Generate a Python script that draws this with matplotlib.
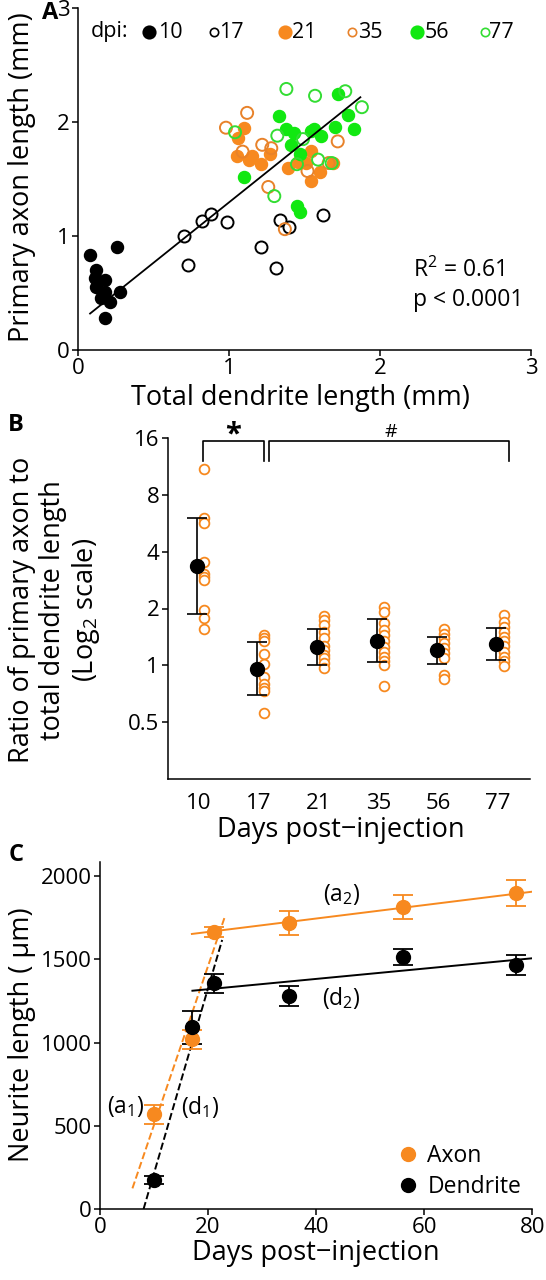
import numpy as np
import matplotlib
matplotlib.use('Agg')
import matplotlib.pyplot as plt
from matplotlib.lines import Line2D

plt.rcParams['font.family'] = ['Open Sans', 'DejaVu Sans']
plt.rcParams['mathtext.fontset'] = 'custom'
plt.rcParams['mathtext.rm'] = 'Open Sans'
plt.rcParams['mathtext.it'] = 'Open Sans'
plt.rcParams['axes.linewidth'] = 1.1
plt.rcParams['xtick.major.width'] = 1.1
plt.rcParams['ytick.major.width'] = 1.1
plt.rcParams['xtick.major.size'] = 4
plt.rcParams['ytick.major.size'] = 4

ORANGE = '#f7891f'
GREEN = '#11e811'
TICK_FS = 16
LABEL_FS = 19.5
TEXT_FS = 16.5

# ---------------- data: panel A (mm) ----------------
dpi10_x = [0.08, 0.26, 0.12, 0.11, 0.18, 0.18, 0.15, 0.21, 0.28, 0.18, 0.12]
dpi10_y = [0.83, 0.90, 0.70, 0.63, 0.61, 0.51, 0.46, 0.42, 0.51, 0.28, 0.55]
dpi17_x = [0.70, 0.82, 0.88, 0.99, 0.73, 1.21, 1.34, 1.40, 1.62, 1.31]
dpi17_y = [1.00, 1.13, 1.19, 1.12, 0.75, 0.90, 1.14, 1.08, 1.18, 0.72]
dpi21_x = [1.10, 1.06, 1.05, 1.15, 1.21, 1.27, 1.54, 1.51, 1.39, 1.60, 1.69, 1.54, 1.46, 1.13]
dpi21_y = [1.95, 1.86, 1.70, 1.70, 1.63, 1.72, 1.75, 1.64, 1.60, 1.56, 1.64, 1.48, 1.65, 1.67]
dpi35_x = [0.98, 1.12, 1.22, 1.28, 1.09, 1.72, 1.26, 1.37, 1.52, 1.66]
dpi35_y = [1.95, 2.08, 1.80, 1.77, 1.74, 1.83, 1.43, 1.06, 1.57, 1.64]
dpi56_x = [1.10, 1.33, 1.38, 1.43, 1.41, 1.47, 1.56, 1.61, 1.70, 1.79, 1.83, 1.72, 1.54, 1.45, 1.47]
dpi56_y = [1.52, 2.05, 1.94, 1.90, 1.80, 1.72, 1.94, 1.88, 1.96, 2.06, 1.94, 2.25, 1.92, 1.26, 1.21]
dpi77_x = [1.38, 1.57, 1.77, 1.88, 1.32, 1.59, 1.45, 1.04, 1.68, 1.30, 1.49]
dpi77_y = [2.29, 2.23, 2.27, 2.13, 1.88, 1.67, 1.63, 1.91, 1.64, 1.35, 1.85]
fit_slope = 1.06
fit_intercept = 0.235
fit_xrange = [0.08, 1.87]

# ---------------- data: panel B (ratio) ----------------
b_days = ['10', '17', '21', '35', '56', '77']
b_mean = [3.35, 0.96, 1.25, 1.35, 1.20, 1.30]
b_hi = [6.0, 1.33, 1.55, 1.77, 1.42, 1.58]
b_lo = [1.88, 0.70, 1.01, 1.04, 1.02, 1.07]
b_cells = [
    [10.97, 6.0, 5.7, 3.52, 3.05, 2.93, 2.83, 1.96, 1.78, 1.55],
    [1.45, 1.39, 1.34, 1.15, 1.02, 0.87, 0.80, 0.76, 0.73, 0.56],
    [1.82, 1.74, 1.64, 1.50, 1.39, 1.26, 1.20, 1.14, 1.09, 1.03, 0.97],
    [2.04, 1.92, 1.67, 1.54, 1.45, 1.34, 1.25, 1.18, 1.11, 1.05, 1.00, 0.78],
    [1.55, 1.47, 1.39, 1.31, 1.23, 1.16, 1.09, 0.89, 0.85],
    [1.85, 1.70, 1.60, 1.51, 1.42, 1.34, 1.26, 1.18, 1.11, 1.05, 0.99],
]

# ---------------- data: panel C (um) ----------------
c_days = [10, 17, 21, 35, 56, 77]
axon_mean = [569, 1019, 1666, 1716, 1816, 1896]
axon_err = [57, 55, 30, 72, 72, 78]
dend_mean = [174, 1091, 1356, 1279, 1512, 1465]
dend_err = [25, 98, 58, 60, 48, 60]
a1_line = ([6.0, 23.1], [124, 1756])
d1_line = ([8.06, 22.6], [0, 1616])
a2_line = ([17.0, 80.0], [1652, 1906])
d2_line = ([17.1, 80.0], [1311, 1506])

fig = plt.figure(figsize=(5.46, 12.8), dpi=100)


def fx(x):
    return x / 546.0


def fy(y):
    return 1 - y / 1280.0


def style(ax):
    ax.spines['top'].set_visible(False)
    ax.spines['right'].set_visible(False)
    ax.tick_params(direction='out', labelsize=TICK_FS, pad=2)


# ================= Panel A =================
axA = fig.add_axes([fx(78), fy(350), fx(531 - 78), 342 / 1280.0])
style(axA)
ms = 75
axA.scatter(dpi10_x, dpi10_y, s=ms, c='black', zorder=3)
axA.scatter(dpi17_x, dpi17_y, s=ms, facecolors='white', edgecolors='black', linewidths=1.4, zorder=3)
axA.scatter(dpi21_x, dpi21_y, s=ms, c=ORANGE, zorder=3)
axA.scatter(dpi35_x, dpi35_y, s=ms, facecolors='none', edgecolors='#e8822a', linewidths=1.4, zorder=3)
axA.scatter(dpi56_x, dpi56_y, s=ms, c=GREEN, zorder=3)
axA.scatter(dpi77_x, dpi77_y, s=ms, facecolors='none', edgecolors='#33dd33', linewidths=1.4, zorder=3)
fx_line = np.array(fit_xrange)
axA.plot(fx_line, fit_intercept + fit_slope * fx_line, color='black', lw=1.3, zorder=4)
axA.set_xlim(0, 3)
axA.set_ylim(0, 3)
axA.set_xticks([0, 1, 2, 3])
axA.set_yticks([0, 1, 2, 3])

# legend row
axA.text((91 - 78) / 453, (350 - 32) / 342, 'dpi:', transform=axA.transAxes,
         fontsize=15.5, va='center', ha='left')
leg_items = [('10', 'black', 'black', 149, 158, 9),
             ('17', 'white', 'black', 214, 219, 6),
             ('21', ORANGE, ORANGE, 285, 292, 9),
             ('35', 'white', '#e8822a', 352, 358, 6),
             ('56', GREEN, GREEN, 417, 425, 9),
             ('77', 'white', '#33dd33', 485, 489, 6)]
for lab, fc, ec, mx, tx, msz in leg_items:
    axA.plot([(mx - 78) / 453], [(350 - 32) / 342], 'o', ms=msz, mfc=fc, mec=ec,
             mew=1.2, transform=axA.transAxes, clip_on=False)
    axA.text((tx - 78) / 453, (350 - 32) / 342, lab, transform=axA.transAxes,
             fontsize=15.5, va='center', ha='left')
axA.text((413 - 78) / 453, (350 - 270) / 342, 'R$^2$ = 0.61', transform=axA.transAxes,
         fontsize=TEXT_FS, va='center', ha='left')
axA.text((413 - 78) / 453, (350 - 300) / 342, 'p < 0.0001', transform=axA.transAxes,
         fontsize=TEXT_FS, va='center', ha='left')
fig.text(fx(300), fy(398), 'Total dendrite length (mm)', fontsize=LABEL_FS, ha='center', va='center')
fig.text(fx(22), fy(177), 'Primary axon length (mm)', fontsize=LABEL_FS, ha='center', va='center',
         rotation=90)
fig.text(fx(50), fy(13), 'A', fontsize=17, fontweight='bold', ha='center', va='center')

# ================= Panel B =================
axB = fig.add_axes([fx(167.5), fy(779), fx(530 - 167.5), (779 - 438) / 1280.0])
style(axB)
axB.set_yscale('log', base=2)
axB.set_ylim(0.25, 16)
axB.set_xlim(-0.52, 5.53)
axB.set_yticks([0.5, 1, 2, 4, 8, 16])
axB.set_yticklabels(['0.5', '1', '2', '4', '8', '16'])
axB.yaxis.set_minor_locator(matplotlib.ticker.NullLocator())
axB.set_xticks(range(len(b_days)))
axB.set_xticklabels(b_days)
axB.tick_params(axis='x', length=0, pad=10)
for i, vals in enumerate(b_cells):
    axB.plot([i + 0.09] * len(vals), vals, 'o', ms=7, mfc='white', mec=ORANGE, mew=1.3,
             zorder=2, ls='none')
pos = np.arange(len(b_days)) - 0.03
yerr = [np.array(b_mean) - np.array(b_lo), np.array(b_hi) - np.array(b_mean)]
axB.errorbar(pos, b_mean, yerr=yerr, fmt='o', color='black', ms=10, capsize=7,
             elinewidth=1.2, capthick=1.2, zorder=3)
# significance brackets
axB.plot([0.07, 0.07, 1.09, 1.09], [12.1, 15.4, 15.4, 12.1], color='black', lw=1.2, clip_on=False)
axB.plot([1.17, 1.17, 5.18, 5.18], [12.1, 15.4, 15.4, 12.1], color='black', lw=1.2, clip_on=False)
axB.text(0.58, 16.6, '*', fontsize=21, ha='center', va='center', fontweight='bold')
axB.text(3.2, 17.2, '#', fontsize=14, ha='center', va='center')
fig.text(fx(341), fy(830), 'Days post\u2212injection', fontsize=LABEL_FS, ha='center', va='center')
fig.text(fx(55), fy(610), 'Ratio of primary axon to\ntotal dendrite length\n(Log$_2$ scale)',
         fontsize=LABEL_FS, ha='center', va='center', rotation=90, linespacing=1.15)
fig.text(fx(16), fy(425), 'B', fontsize=17, fontweight='bold', ha='center', va='center')

# ================= Panel C =================
axC = fig.add_axes([fx(100), fy(1209), fx(532.4 - 100), (1209 - 861.7) / 1280.0])
style(axC)
axC.set_xlim(0, 80)
axC.set_ylim(0, 2086)
axC.set_xticks([0, 20, 40, 60, 80])
axC.set_yticks([0, 500, 1000, 1500, 2000])
axC.plot(a1_line[0], a1_line[1], '--', color=ORANGE, lw=1.4, zorder=2)
axC.plot(d1_line[0], d1_line[1], '--', color='black', lw=1.4, zorder=2)
axC.plot(a2_line[0], a2_line[1], '-', color=ORANGE, lw=1.4, zorder=2)
axC.plot(d2_line[0], d2_line[1], '-', color='black', lw=1.4, zorder=2)
axC.errorbar(c_days, axon_mean, yerr=axon_err, fmt='o', color=ORANGE, ms=10, capsize=7,
             elinewidth=1.3, capthick=1.3, zorder=3)
axC.errorbar(c_days, dend_mean, yerr=dend_err, fmt='o', color='black', ms=10, capsize=7,
             elinewidth=1.3, capthick=1.3, zorder=3)
axC.text(44.7, 1886, '(a$_2$)', fontsize=TEXT_FS, ha='center', va='center')
axC.text(44.7, 1265, '(d$_2$)', fontsize=TEXT_FS, ha='center', va='center')
axC.text(4.7, 614, '(a$_1$)', fontsize=TEXT_FS, ha='center', va='center')
axC.text(18.6, 614, '(d$_1$)', fontsize=TEXT_FS, ha='center', va='center')
handles = [Line2D([], [], ls='none', marker='o', ms=10, color=ORANGE),
           Line2D([], [], ls='none', marker='o', ms=10, color='black')]
axC.legend(handles, ['Axon', 'Dendrite'], loc='center left', bbox_to_anchor=(0.691, 0.109),
           frameon=False, fontsize=TEXT_FS, handletextpad=0.45, labelspacing=0.3,
           handlelength=0.8, borderpad=0, borderaxespad=0)
fig.text(fx(316), fy(1253), 'Days post\u2212injection', fontsize=LABEL_FS, ha='center', va='center')
fig.text(fx(22), fy(1035), 'Neurite length ( \u03bcm)', fontsize=LABEL_FS, ha='center', va='center',
         rotation=90)
fig.text(fx(16), fy(855), 'C', fontsize=17, fontweight='bold', ha='center', va='center')

fig.savefig('out.png', dpi=100)
